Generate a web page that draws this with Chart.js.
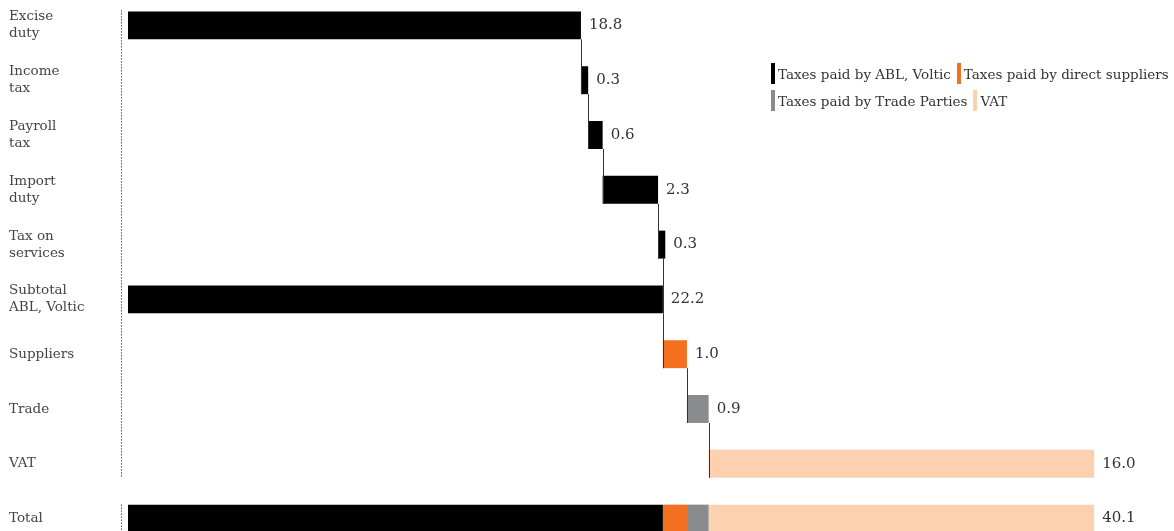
<!DOCTYPE html>
<html>
<head>
<meta charset="utf-8">
<script src="https://cdn.jsdelivr.net/npm/chart.js@4/dist/chart.umd.min.js"></script>
<style>
  html, body { margin: 0; padding: 0; background: #fff; overflow: hidden; }
  body { width: 1174px; height: 531px; position: relative; font-family: "DejaVu Serif", serif; }
  #wrap { position: absolute; left: 0; top: -2px; width: 1174px; height: 548px; }
  #legend { position: absolute; left: 771px; top: 63px; font-size: 13.5px; color: #333; }
  #legend .row { display: flex; height: 27px; align-items: flex-start; }
  #legend .item { display: flex; align-items: center; margin-right: 6px; white-space: nowrap; }
  #legend .mark { width: 4px; height: 21px; margin-right: 3px; }
</style>
</head>
<body>
<div id="wrap"><canvas id="chart"></canvas></div>
<div id="legend"></div>
<script>
// categories (y axis)
const categories = [
  ["Excise", "duty"], ["Income", "tax"], ["Payroll", "tax"], ["Import", "duty"],
  ["Tax on", "services"], ["Subtotal", "ABL, Voltic"], "Suppliers", "Trade", "VAT", "Total"
];

// series values per row (null = not shown)
const ablTaxes      = [18.8, 0.3, 0.6, 2.3, 0.3, 22.2, null, null, null, 22.2];
const supplierTaxes = [null, null, null, null, null, null, 1.0, null, null, 1.0];
const tradeTaxes    = [null, null, null, null, null, null, null, 0.9, null, 0.9];
const vatTaxes      = [null, null, null, null, null, null, null, null, 16.0, 16.0];

// row kinds: step continues the waterfall, subtotal restarts at 0, total stacks all series
const rowKinds = ["step", "step", "step", "step", "step", "subtotal", "step", "step", "step", "total"];

const seriesNames = ["Taxes paid by ABL, Voltic", "Taxes paid by direct suppliers", "Taxes paid by Trade Parties", "VAT"];
const seriesColors = ["#000000", "#f37021", "#898b8d", "#fdd0af"];
const series = [ablTaxes, supplierTaxes, tradeTaxes, vatTaxes];

// build floating ranges from the values
const ranges = series.map(() => categories.map(() => null));
const rowEnds = [];
const rowStarts = [];
let run = 0;
categories.forEach((c, i) => {
  if (rowKinds[i] === "total") {
    let acc = 0;
    series.forEach((s, k) => {
      if (s[i] != null) { ranges[k][i] = [acc, acc + s[i]]; acc += s[i]; }
    });
    rowStarts.push(0);
    rowEnds.push(acc);
    return;
  }
  series.forEach((s, k) => {
    if (s[i] == null) return;
    if (rowKinds[i] === "subtotal") {
      ranges[k][i] = [0, s[i]];
      rowStarts.push(0);
      run = s[i];
    } else {
      ranges[k][i] = [run, run + s[i]];
      rowStarts.push(run);
      run += s[i];
    }
    rowEnds.push(run);
  });
});
const rowLabels = categories.map((c, i) => {
  let v = 0;
  series.forEach(s => { if (s[i] != null) v += s[i]; });
  return v.toFixed(1);
});

const FONT = "'DejaVu Serif', serif";

const waterfallExtras = {
  id: "waterfallExtras",
  afterDatasetsDraw(chart) {
    const { ctx, scales: { x, y } } = chart;
    const half = chart.getDatasetMeta(0).data[0].height / 2;
    ctx.save();

    // connectors
    ctx.strokeStyle = "#333";
    ctx.lineWidth = 1;
    for (let i = 1; i < categories.length - 1; i++) {
      const xv = rowKinds[i] === "subtotal" ? rowEnds[i] : rowStarts[i];
      const px = Math.round(x.getPixelForValue(xv)) + 0.5;
      ctx.beginPath();
      ctx.moveTo(px, y.getPixelForValue(i - 1) + half);
      ctx.lineTo(px, y.getPixelForValue(i) + half);
      ctx.stroke();
    }

    // dotted axis line, broken before the total
    ctx.setLineDash([1, 2]);
    ctx.strokeStyle = "#000";
    const ax = chart.chartArea.left - 6.5;
    const last = categories.length - 1;
    ctx.beginPath();
    ctx.moveTo(ax, y.getPixelForValue(0) - half - 1);
    ctx.lineTo(ax, y.getPixelForValue(last - 1) + half);
    ctx.moveTo(ax, y.getPixelForValue(last) - half);
    ctx.lineTo(ax, y.getPixelForValue(last) + half);
    ctx.stroke();
    ctx.setLineDash([]);

    // value labels
    ctx.fillStyle = "#333";
    ctx.font = "15px " + FONT;
    ctx.textBaseline = "middle";
    ctx.textAlign = "left";
    rowLabels.forEach((t, i) => {
      ctx.fillText(t, x.getPixelForValue(rowEnds[i]) + 8, y.getPixelForValue(i));
    });
    ctx.restore();
  }
};

const chart = new Chart(document.getElementById("chart"), {
  type: "bar",
  data: {
    labels: categories,
    datasets: series.map((s, k) => ({
      label: seriesNames[k],
      data: ranges[k],
      backgroundColor: seriesColors[k],
      borderWidth: 0,
      grouped: false,
      categoryPercentage: 1,
      barPercentage: 0.51
    }))
  },
  options: {
    indexAxis: "y",
    responsive: true,
    maintainAspectRatio: false,
    animation: false,
    layout: { padding: { left: 9, right: 10, top: 0, bottom: 0 } },
    plugins: { legend: { display: false }, tooltip: { enabled: false } },
    scales: {
      x: { display: false, min: 0, max: 43 },
      y: {
        grid: { display: false },
        border: { display: false },
        afterFit(scale) {
          scale.width = 119;
          scale.paddingTop = 0;
          scale.paddingBottom = 0;
        },
        ticks: {
          crossAlign: "far",
          color: "#444",
          font: { family: FONT, size: 13.5, lineHeight: 1.25 },
          padding: 0
        }
      }
    }
  },
  plugins: [waterfallExtras]
});

// html legend
const legend = document.getElementById("legend");
[[0, 1], [2, 3]].forEach(rowIdx => {
  const row = document.createElement("div");
  row.className = "row";
  rowIdx.forEach(k => {
    const ds = chart.data.datasets[k];
    const item = document.createElement("div");
    item.className = "item";
    item.innerHTML = `<span class="mark" style="background:${ds.backgroundColor}"></span><span>${ds.label}</span>`;
    row.appendChild(item);
  });
  legend.appendChild(row);
});
</script>
</body>
</html>
